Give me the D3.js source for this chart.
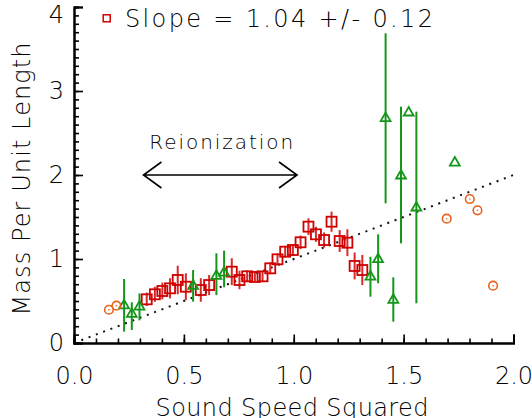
<!DOCTYPE html>
<html>
<head>
<meta charset="utf-8">
<script src="https://cdn.jsdelivr.net/npm/d3@7"></script>
<style>
  body { margin: 0; background: #fff; }
  svg { display: block; }
  text { font-family: "DejaVu Sans", sans-serif; font-weight: 200; fill: #000; }
</style>
</head>
<body>
<svg id="chart" width="532" height="418"></svg>
<script>
// red squares (with error bars)
const sqX = [0.331, 0.368, 0.402, 0.437, 0.472, 0.509, 0.577, 0.615, 0.718, 0.753, 0.788, 0.823, 0.858,
             0.893, 0.926, 0.961, 0.996, 1.031, 1.067, 1.101, 1.138, 1.172, 1.209, 1.244, 1.277, 1.312];
const sqY = [0.52, 0.58, 0.619, 0.651, 0.75, 0.67, 0.631, 0.69, 0.849, 0.75, 0.794, 0.786, 0.794,
             0.889, 0.996, 1.087, 1.107, 1.199, 1.385, 1.294, 1.226, 1.444, 1.214, 1.194, 0.917, 0.869];
const sqErr = [0.08, 0.09, 0.1, 0.12, 0.17, 0.16, 0.14, 0.12, 0.16, 0.11, 0.07, 0.06, 0.06,
               0.07, 0.07, 0.07, 0.07, 0.08, 0.1, 0.09, 0.09, 0.12, 0.13, 0.16, 0.16, 0.18];

// green triangles with asymmetric error bars
const triX  = [0.228, 0.263, 0.298, 0.542, 0.648, 0.683, 1.349, 1.384, 1.418, 1.453, 1.488, 1.523, 1.558, 1.733];
const triY  = [0.446, 0.345, 0.432, 0.679, 0.798, 0.837, 0.789, 0.996, 2.675, 0.512, 1.992, 2.742, 1.611, 2.146];
const triLo = [0.135, 0.155, 0.27, 0.492, 0.571, 0.663, 0.551, 0.711, 1.663, 0.254, 1.187, 2.742, 0.473, 2.146];
const triHi = [0.762, 0.485, 0.59, 0.869, 1.068, 1.099, 1.027, 1.294, 3.687, 0.782, 2.813, 2.742, 2.754, 2.146];

// orange circles
const circX = [0.159, 0.193, 1.696, 1.801, 1.836, 1.907];
const circY = [0.396, 0.444, 1.48, 1.714, 1.58, 0.682];

const xMajor = [0, 0.5, 1.0, 1.5, 2.0];
const yMajor = [0, 1, 2, 3, 4];
const fitSlope = 1.0;
const arrowRange = [0.316, 1.015];
const arrowY = 2.0;

const svg = d3.select('#chart');
const x = d3.scaleLinear().domain([0, 2]).range([74, 513.5]);
const y = d3.scaleLinear().domain([0, 4]).range([343, 7]);

const red = '#cf0000', green = '#14961a', orange = '#e8641c';

// fit line
svg.append('line')
    .attr('x1', x(0)).attr('y1', y(0))
    .attr('x2', x(2)).attr('y2', y(2 * fitSlope))
    .attr('stroke', '#111').attr('stroke-width', 2)
    .attr('stroke-dasharray', '2 5.8');

// axes: minor ticks first, then major with labels
const minorX = d3.range(0, 20.5).map(i => i / 10);
const minorY = d3.range(0, 40.5).map(i => i / 10);

svg.append('g').attr('transform', `translate(0,${y(0)})`)
    .call(d3.axisBottom(x).tickValues(minorX).tickSize(-4.5).tickFormat(''));
svg.append('g').attr('transform', `translate(${x(0)},0)`)
    .call(d3.axisLeft(y).tickValues(minorY).tickSize(-5).tickFormat(''));

const gx = svg.append('g').attr('transform', `translate(0,${y(0)})`)
    .call(d3.axisBottom(x).tickValues(xMajor).tickSize(-8.5).tickPadding(24).tickFormat(d3.format('.1f')));
const gy = svg.append('g').attr('transform', `translate(${x(0)},0)`)
    .call(d3.axisLeft(y).tickValues(yMajor).tickSize(-9).tickPadding(10).tickFormat(d3.format('d')));

svg.selectAll('.domain').attr('stroke', '#000').attr('stroke-width', 2);
svg.selectAll('.tick line').attr('stroke', '#000').attr('stroke-width', 1.6);
[gx, gy].forEach(g => g.selectAll('text')
    .style('font-family', '"DejaVu Sans", sans-serif')
    .style('font-weight', 200)
    .style('font-size', '24px')
    .attr('fill', '#000'));
// top label sits a little below its tick so it stays inside the picture
gy.selectAll('.tick text').filter(d => d === 4).attr('dy', '0.65em');

// axis titles
svg.append('text')
    .attr('x', 292).attr('y', 416)
    .attr('text-anchor', 'middle')
    .style('font-size', '24px')
    .attr('textLength', 273)
    .text('Sound Speed Squared');
svg.append('text')
    .attr('transform', 'translate(30,179) rotate(-90)')
    .attr('text-anchor', 'middle')
    .style('font-size', '24px')
    .attr('textLength', 273)
    .text('Mass Per Unit Length');

// error bars
svg.append('g').selectAll('line')
    .data(triX.map((d, i) => i))
    .join('line')
    .attr('x1', i => x(triX[i])).attr('x2', i => x(triX[i]))
    .attr('y1', i => y(triLo[i])).attr('y2', i => y(triHi[i]))
    .attr('stroke', green).attr('stroke-width', 2);

svg.append('g').selectAll('line')
    .data(sqX.map((d, i) => i))
    .join('line')
    .attr('x1', i => x(sqX[i])).attr('x2', i => x(sqX[i]))
    .attr('y1', i => y(sqY[i] - sqErr[i])).attr('y2', i => y(sqY[i] + sqErr[i]))
    .attr('stroke', '#d82a2a').attr('stroke-width', 2);

// red squares
svg.append('g').selectAll('rect')
    .data(sqX.map((d, i) => i))
    .join('rect')
    .attr('x', i => x(sqX[i]) - 5).attr('y', i => y(sqY[i]) - 5)
    .attr('width', 10).attr('height', 10)
    .attr('fill', 'none').attr('stroke', red).attr('stroke-width', 1.8);

// green triangles
const tri = d3.symbol().type(d3.symbolTriangle).size(42);
svg.append('g').selectAll('path')
    .data(triX.map((d, i) => i))
    .join('path')
    .attr('d', tri)
    .attr('transform', i => `translate(${x(triX[i])},${y(triY[i])})`)
    .attr('fill', 'none').attr('stroke', green).attr('stroke-width', 1.8);

// orange circles with centre dot
const circ = svg.append('g').selectAll('g')
    .data(circX.map((d, i) => i))
    .join('g')
    .attr('transform', i => `translate(${x(circX[i])},${y(circY[i])})`);
circ.append('circle').attr('r', 4.3)
    .attr('fill', 'none').attr('stroke', orange).attr('stroke-width', 1.6);
circ.append('circle').attr('r', 0.8).attr('fill', orange);

// legend
svg.append('rect')
    .attr('x', 103.2).attr('y', 14.8).attr('width', 7).attr('height', 7)
    .attr('fill', 'none').attr('stroke', red).attr('stroke-width', 1.5);
svg.append('text')
    .attr('x', 125).attr('y', 27)
    .style('font-size', '24px')
    .attr('textLength', 308)
    .attr('lengthAdjust', 'spacing')
    .text('Slope = 1.04 +/- 0.12');

// reionization arrow
const ax0 = x(arrowRange[0]), ax1 = x(arrowRange[1]), ay = y(arrowY);
svg.append('path')
    .attr('d', `M${ax0},${ay}H${ax1}M${ax0 + 18},${ay - 13}L${ax0},${ay}L${ax0 + 18},${ay + 13}` +
               `M${ax1 - 18},${ay - 13}L${ax1},${ay}L${ax1 - 18},${ay + 13}`)
    .attr('fill', 'none').attr('stroke', '#000').attr('stroke-width', 1.6);
svg.append('text')
    .attr('x', (ax0 + ax1) / 2 + 1).attr('y', 149)
    .attr('text-anchor', 'middle')
    .style('font-size', '20px')
    .attr('textLength', 144)
    .text('Reionization');
</script>
</body>
</html>
